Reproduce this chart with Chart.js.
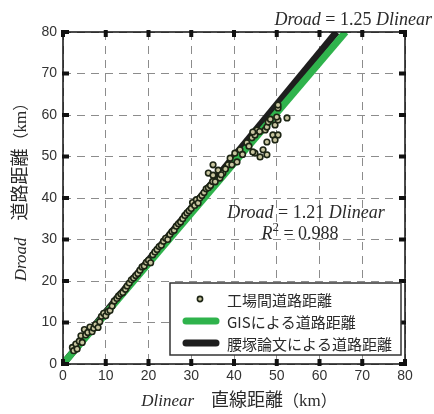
<!DOCTYPE html>
<html><head><meta charset="utf-8">
<script src="https://cdn.jsdelivr.net/npm/chart.js@4"></script>
<style>html,body{margin:0;padding:0;background:#fff}#wrap{width:434px;height:414px;position:relative}</style>
</head><body><div id="wrap"><canvas id="c" width="434" height="414"></canvas></div>
<script>
const tickValues = [0,10,20,30,40,50,60,70,80];
const pointsX = [2.2,2.5,3.0,3.3,3.8,4.2,4.5,5.0,5.3,5.8,6.3,6.8,7.2,7.6,8.2,8.6,9.0,9.5,10.0,10.5,11.0,11.5,12.0,12.6,13.0,13.5,14.0,14.6,15.0,15.5,16.0,16.5,17.0,17.5,18.0,18.5,19.0,19.5,20.0,
20.5,21.0,21.5,22.0,22.5,23.0,23.5,24.0,24.5,25.0,25.5,26.0,26.5,27.0,27.5,28.0,28.5,29.0,29.5,30.0,30.3,30.8,31.2,31.6,32.0,32.5,33.0,33.5,34.0,34.5,
35.0,35.1,34.0,35.1,36.3,36.7,35.6,37.4,38.6,39.1,40.2,40.7,37.0,38.0,39.5,41.4,42.0,43.0,43.5,44.2,44.9,45.4,44.4,46.0,47.3,47.7,48.0,49.6,50.3,50.0,50.3,50.3,49.1,50.3,49.6,47.7,46.8,44.9,46.1,47.7,44.4,52.4,48.5];
const pointsY = [4.0,3.2,4.8,3.6,5.5,6.8,5.2,8.3,7.0,7.6,8.9,7.8,8.6,9.5,8.8,10.2,11.5,12.2,11.6,12.6,12.9,14.0,15.2,15.8,16.4,16.9,17.2,18.0,18.8,19.5,20.3,20.7,21.3,21.8,22.6,23.4,23.6,24.5,25.0,
24.4,26.3,27.0,27.6,28.3,28.6,29.6,30.3,30.0,31.2,31.9,32.2,33.2,33.8,34.2,35.0,35.8,36.4,36.9,37.5,38.9,38.2,39.6,38.8,40.0,40.6,41.3,42.2,42.5,43.0,
44.0,48.0,46.0,45.5,46.7,44.8,43.9,46.0,48.0,49.6,50.8,48.7,45.6,47.0,48.0,51.6,50.5,53.3,52.5,54.5,55.2,56.4,55.9,56.0,56.4,57.1,58.3,57.6,58.8,59.5,61.7,62.4,55.2,55.2,54.0,53.5,51.6,50.8,49.9,50.4,51.1,59.3,59.0];
const gisLineX = [0, 66.1];
const gisLineY = [0, 80];
const koshiLineX = [0, 64.0];
const koshiLineY = [0, 80];
const legendLabels = ['工場間道路距離','GISによる道路距離','腰塚論文による道路距離'];
const topNote = ['Droad', ' = 1.25 ', 'Dlinear'];
const midNote = ['Droad', ' = 1.21 ', 'Dlinear'];
const r2Note = ['R', '2', ' = 0.988'];

const GREEN = '#2fb34c', BLACK = '#1e1e1e';
const pts = pointsX.map((x,i)=>({x, y: pointsY[i]}));
const gis = gisLineX.map((x,i)=>({x, y: gisLineY[i]}));
const kos = koshiLineX.map((x,i)=>({x, y: koshiLineY[i]}));

const SERIF = '"Liberation Serif","DejaVu Serif",serif';
const CJK = '"Noto Sans CJK JP","Noto Sans",sans-serif';
const NUM = '"Liberation Sans Narrow","Liberation Sans",Arial,sans-serif';

function drawRuns(ctx, runs, x, y, align){
  let w = 0; runs.forEach(r=>{ctx.font=r.font; w+=ctx.measureText(r.t).width;});
  let cx = align==='right'? x-w : align==='center'? x-w/2 : x;
  runs.forEach(r=>{ctx.font=r.font; ctx.fillText(r.t, cx, y+(r.dy||0)); cx+=ctx.measureText(r.t).width;});
}

const deco = {
  id:'deco',
  afterDraw(chart){
    const {ctx, chartArea:a, scales:{x:sx, y:sy}} = chart;
    ctx.save();
    ctx.strokeStyle='#111'; ctx.lineWidth=1.5;
    ctx.strokeRect(a.left, a.top, a.right-a.left, a.bottom-a.top);
    ctx.fillStyle='#111';
    tickValues.forEach(v=>{
      const px = sx.getPixelForValue(v), py = sy.getPixelForValue(v);
      ctx.fillRect(px-2, a.bottom-5, 4, 7);
      ctx.fillRect(px-2, a.top-2, 4, 7);
      ctx.fillRect(a.left-1, py-2, 7, 4);
      ctx.fillRect(a.right-6, py-2, 7, 4);
    });
    ctx.fillStyle='#2a2a2a'; ctx.textBaseline='alphabetic';
    drawRuns(ctx, [{t:topNote[0],font:'italic 18px '+SERIF},{t:topNote[1],font:'18px '+SERIF},{t:topNote[2],font:'italic 18px '+SERIF}], 432, 25, 'right');
    drawRuns(ctx, [{t:midNote[0],font:'italic 18px '+SERIF},{t:midNote[1],font:'18px '+SERIF},{t:midNote[2],font:'italic 18px '+SERIF}], 306, 218, 'center');
    drawRuns(ctx, [{t:r2Note[0],font:'italic 18px '+SERIF},{t:r2Note[1],font:'13px '+SERIF,dy:-8},{t:r2Note[2],font:'18px '+SERIF}], 300, 239, 'center');
    // x title
    drawRuns(ctx, [{t:'Dlinear',font:'italic 17px '+SERIF},{t:'    ',font:'17px '+SERIF},{t:'直線距離',font:'18px '+CJK},{t:'（',font:'16px '+CJK},{t:'km',font:'17px '+SERIF},{t:'）',font:'16px '+CJK}], 239, 406, 'center');
    // y title
    ctx.save(); ctx.translate(26, 188); ctx.rotate(-Math.PI/2);
    drawRuns(ctx, [{t:'Droad',font:'italic 17px '+SERIF},{t:'    ',font:'17px '+SERIF},{t:'道路距離',font:'18px '+CJK},{t:'（',font:'16px '+CJK},{t:'km',font:'17px '+SERIF},{t:'）',font:'16px '+CJK}], 0, 0, 'center');
    ctx.restore();
    // legend
    const L=170, T=283, R=401, B=355;
    ctx.fillStyle='#fff'; ctx.fillRect(L,T,R-L,B-T);
    ctx.strokeStyle='#333'; ctx.lineWidth=1.5; ctx.strokeRect(L,T,R-L,B-T);
    const rows=[299,321,343];
    ctx.beginPath(); ctx.arc(200, rows[0], 2.6, 0, Math.PI*2);
    ctx.fillStyle='#c9c6a0'; ctx.fill(); ctx.strokeStyle='#1c2414'; ctx.lineWidth=1.6; ctx.stroke();
    ctx.lineCap='round'; ctx.lineWidth=7;
    ctx.strokeStyle=GREEN; ctx.beginPath(); ctx.moveTo(186, rows[1]); ctx.lineTo(216, rows[1]); ctx.stroke();
    ctx.strokeStyle=BLACK; ctx.beginPath(); ctx.moveTo(186, rows[2]); ctx.lineTo(216, rows[2]); ctx.stroke();
    ctx.fillStyle='#2a2a2a'; ctx.font='15px '+CJK; ctx.textBaseline='middle';
    legendLabels.forEach((t,i)=>ctx.fillText(t, 227, rows[i]+1));
    ctx.restore();
  }
};

new Chart(document.getElementById('c'), {
  data:{datasets:[
    {type:'scatter', label:legendLabels[0], data:pts, order:0, pointRadius:2.8, pointBorderWidth:1.6,
     pointBackgroundColor:'#c9c6a0', pointBorderColor:'#1c2414'},
    {type:'line', label:legendLabels[1], data:gis, order:1, borderColor:GREEN, borderWidth:7, pointRadius:0, borderCapStyle:'butt'},
    {type:'line', label:legendLabels[2], data:kos, order:2, borderColor:BLACK, borderWidth:7, pointRadius:0, borderCapStyle:'butt'}
  ]},
  options:{
    responsive:false, animation:false, devicePixelRatio:1,
    layout:{padding:{left:0,right:29,top:32,bottom:0}},
    plugins:{legend:{display:false}, tooltip:{enabled:false}},
    scales:{
      x:{type:'linear', min:0, max:80, afterFit:s=>{s.height=50;},
         afterBuildTicks:s=>{s.ticks=tickValues.map(v=>({value:v}));},
         ticks:{font:{size:14,family:NUM}, color:'#333', padding:4, maxRotation:0},
         grid:{color:'#8c8c8c', lineWidth:1, drawTicks:false},
         border:{display:false, dash:[8,6]}},
      y:{type:'linear', min:0, max:80, afterFit:s=>{s.width=63;},
         afterBuildTicks:s=>{s.ticks=tickValues.map(v=>({value:v}));},
         ticks:{font:{size:14,family:NUM}, color:'#333', padding:6},
         grid:{color:'#8c8c8c', lineWidth:1, drawTicks:false},
         border:{display:false, dash:[8,6]}}
    }
  },
  plugins:[deco]
});
</script></body></html>
